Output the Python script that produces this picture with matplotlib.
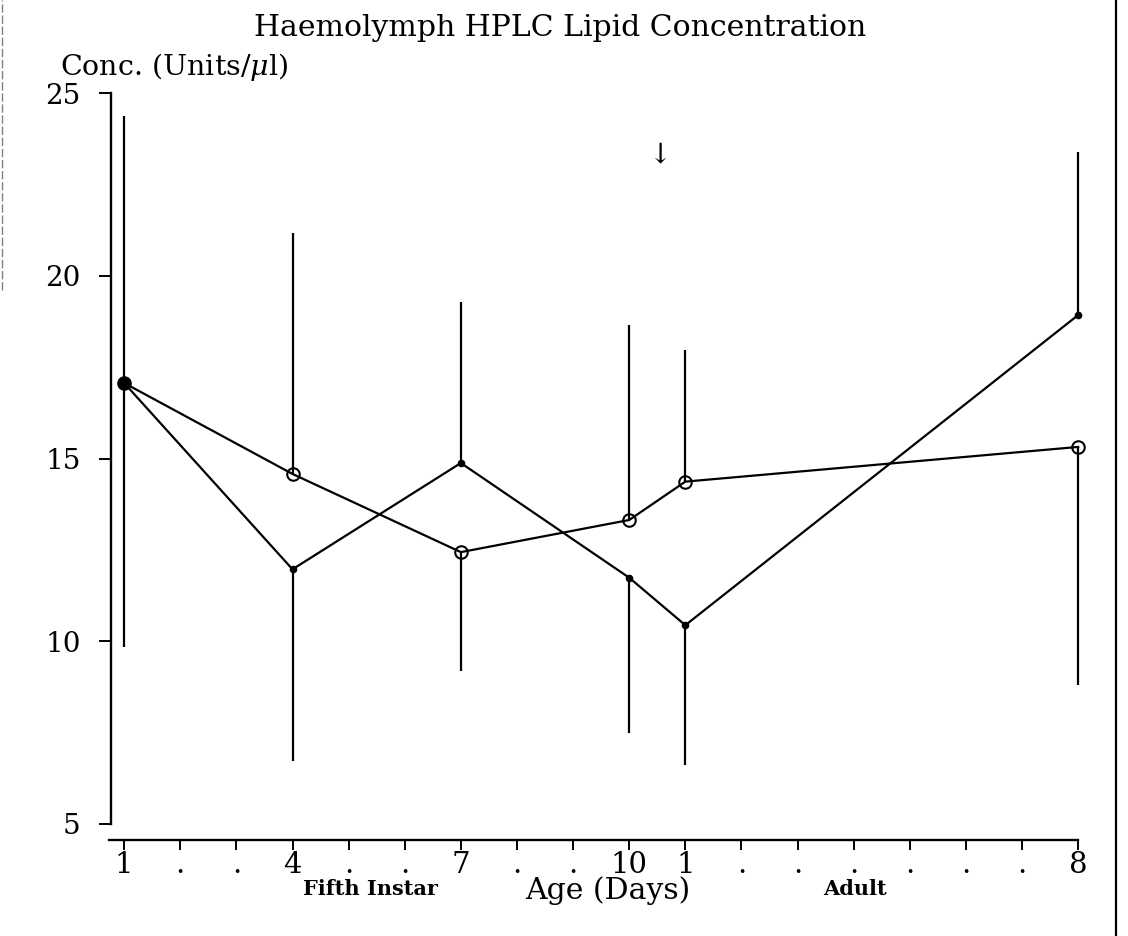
import matplotlib.pyplot as plt
from matplotlib.lines import Line2D

plt.rcParams['font.family'] = 'DejaVu Serif'
plt.rcParams['mathtext.fontset'] = 'dejavuserif'

# 18 sampling slots: fifth instar days 1-10, then adult days 1-8
slots = list(range(18))
slot_labels = ['1', '.', '.', '4', '.', '.', '7', '.', '.', '10',
               '1', '.', '.', '.', '.', '.', '.', '8']
sample_slots = [0, 3, 6, 9, 10, 17]

# filled-dot series
solid_conc = [17.07, 11.97, 14.88, 11.74, 10.44, 18.93]
solid_err = [7.30, 5.25, 4.40, 4.25, 3.83, 4.46]
solid_side = ['up', 'down', 'up', 'down', 'down', 'up']

# open-circle series
open_conc = [17.07, 14.58, 12.44, 13.32, 14.37, 15.32]
open_err = [7.22, 6.60, 3.25, 5.33, 3.60, 6.52]
open_side = ['down', 'up', 'down', 'up', 'up', 'down']


def one_sided(err, side):
    low = [e if s == 'down' else 0 for e, s in zip(err, side)]
    high = [e if s == 'up' else 0 for e, s in zip(err, side)]
    return [low, high]


W, H = 1128, 936
fig = plt.figure(figsize=(W / 100, H / 100), dpi=100)
ax = fig.add_axes([109 / W, 96 / H, (1095 - 109) / W, (840 - 86) / H])

ax.errorbar(sample_slots, solid_conc, yerr=one_sided(solid_err, solid_side),
            fmt='none', ecolor='black', elinewidth=1.6, capsize=0)
ax.errorbar(sample_slots, open_conc, yerr=one_sided(open_err, open_side),
            fmt='none', ecolor='black', elinewidth=1.6, capsize=0)
ax.plot(sample_slots, open_conc, color='black', lw=1.6, marker='o',
        markersize=9, markerfacecolor='none', markeredgewidth=1.5)
ax.plot(sample_slots, solid_conc, color='black', lw=1.6, marker='o',
        markersize=4.5, markerfacecolor='black')
ax.plot(sample_slots[0], solid_conc[0], 'o', color='black', markersize=8)

ax.set_xlim(-0.27, 17.3)
ax.set_ylim(4.56, 25.2)

for side in ['top', 'right']:
    ax.spines[side].set_visible(False)
ax.spines['left'].set_position(('data', -0.23))
ax.spines['left'].set_bounds(5, 25)
ax.spines['bottom'].set_bounds(-0.27, 17)
ax.spines['left'].set_linewidth(1.7)
ax.spines['bottom'].set_linewidth(1.7)

ax.set_yticks([5, 10, 15, 20, 25])
ax.set_xticks(slots)
ax.set_xticklabels(slot_labels)
ax.tick_params(axis='y', direction='out', length=9, width=1.4, pad=13,
               labelsize=20)
ax.tick_params(axis='x', direction='out', length=7.5, width=1.4, pad=0.5,
               labelsize=21)

ax.text(9.55, 23.3, '\u2193', ha='center', va='center', fontsize=20)

fig.text(560 / W, 1 - 28 / H, 'Haemolymph HPLC Lipid Concentration',
         ha='center', va='center', fontsize=21.5)
fig.text(60 / W, 1 - 67 / H, r'Conc. (Units/$\mu$l)',
         ha='left', va='center', fontsize=20.5)
fig.text(370 / W, 1 - 889 / H, 'Fifth Instar', ha='center', va='center',
         fontsize=15, fontweight='bold')
fig.text(608 / W, 1 - 891 / H, 'Age (Days)', ha='center', va='center',
         fontsize=21.5)
fig.text(855 / W, 1 - 889 / H, 'Adult', ha='center', va='center',
         fontsize=15, fontweight='bold')

# page frame edges
fig.add_artist(Line2D([1116 / W, 1116 / W], [0, 1], color='black', lw=1.6))
fig.add_artist(Line2D([2 / W, 2 / W], [1 - 290 / H, 1], color='gray',
                      lw=1, ls=(0, (6, 2))))

fig.savefig('out.png', dpi=100)
